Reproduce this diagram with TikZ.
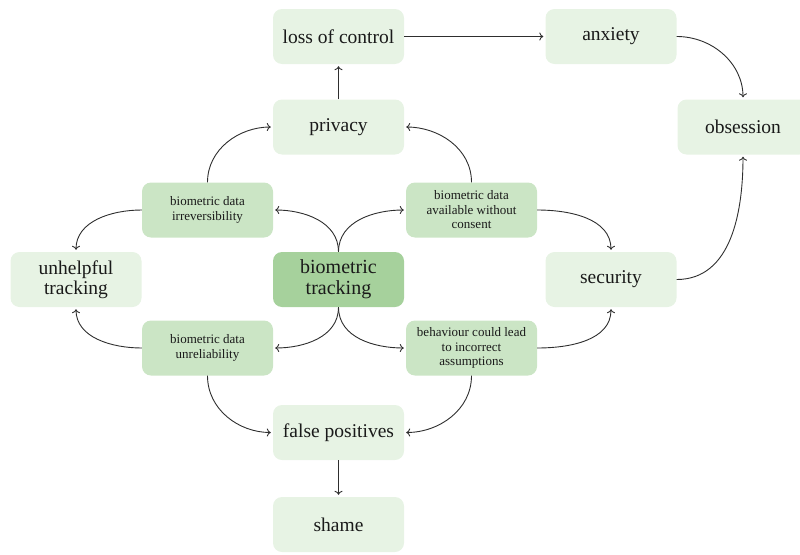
\documentclass[tikz,border=0pt]{standalone}
\usepackage{fontspec}
\setmainfont{Liberation Serif}
\usetikzlibrary{arrows.meta}
\definecolor{boxlight}{HTML}{E7F3E4}
\definecolor{boxmid}{HTML}{CBE5C5}
\definecolor{boxdark}{HTML}{A6D19C}
\definecolor{inkc}{HTML}{1A1A1A}
\definecolor{linec}{HTML}{2E2E2E}
\tikzset{
  base/.style={rounded corners=9pt, minimum width=131pt, minimum height=55pt, inner sep=2pt, align=center, text=inkc},
  bigbox/.style={base, fill=boxlight, font=\fontsize{19.5}{20.5}\selectfont},
  midbox/.style={base, fill=boxmid, font=\fontsize{13}{14.5}\selectfont},
  centerbox/.style={base, fill=boxdark, font=\fontsize{20}{21}\selectfont},
  conn/.style={draw=linec, line width=0.9pt, -{To[length=4pt,width=8pt]}, shorten >=2pt}
}
\begin{document}
\begin{tikzpicture}[x=1pt,y=-1pt]
\useasboundingbox (0,0) rectangle (800,554);
\begin{scope}
\clip (0,0) rectangle (800,554);
\node[bigbox] (loc) at (338.5,36.5) {loss of control};
\node[bigbox] (anx) at (611,36.5) {anxiety};
\node[bigbox] (priv) at (338.5,127) {privacy};
\node[bigbox] (obs) at (743,127) {obsession};
\node[midbox] (irr) at (207.5,210) {biometric data\\irreversibility};
\node[midbox] (cons) at (471.5,210) {biometric data\\available without\\consent};
\node[bigbox] (unh) at (76,279.5) {unhelpful\\tracking};
\node[centerbox] (bt) at (338.5,279.5) {biometric\\tracking};
\node[bigbox] (sec) at (611,279.5) {security};
\node[midbox] (unr) at (207.5,348) {biometric data\\unreliability};
\node[midbox] (beh) at (471.5,348) {behaviour could lead\\to incorrect\\assumptions};
\node[bigbox] (fp) at (338.5,432.5) {false positives};
\node[bigbox] (sh) at (338.5,524.5) {shame};
\end{scope}

\draw[conn] (priv.north) -- (loc.south);
\draw[conn] (loc.east) -- (anx.west);
\draw[conn] (anx.east) to[out=0,in=90] (obs.north);
\draw[conn] (sec.east) to[out=0,in=-90] (obs.south);
\draw[conn] (bt.north) to[out=90,in=0] (irr.east);
\draw[conn] (bt.north) to[out=90,in=180] (cons.west);
\draw[conn] (bt.south) to[out=-90,in=0] (unr.east);
\draw[conn] (bt.south) to[out=-90,in=180] (beh.west);
\draw[conn] (irr.north) to[out=90,in=180] (priv.west);
\draw[conn] (cons.north) to[out=90,in=0] (priv.east);
\draw[conn] (irr.west) to[out=180,in=90] (unh.north);
\draw[conn] (unr.west) to[out=180,in=-90] (unh.south);
\draw[conn] (cons.east) to[out=0,in=90] (sec.north);
\draw[conn] (beh.east) to[out=0,in=-90] (sec.south);
\draw[conn] (unr.south) to[out=-90,in=180] (fp.west);
\draw[conn] (beh.south) to[out=-90,in=0] (fp.east);
\draw[conn] (fp.south) -- (sh.north);
\end{tikzpicture}
\end{document}
